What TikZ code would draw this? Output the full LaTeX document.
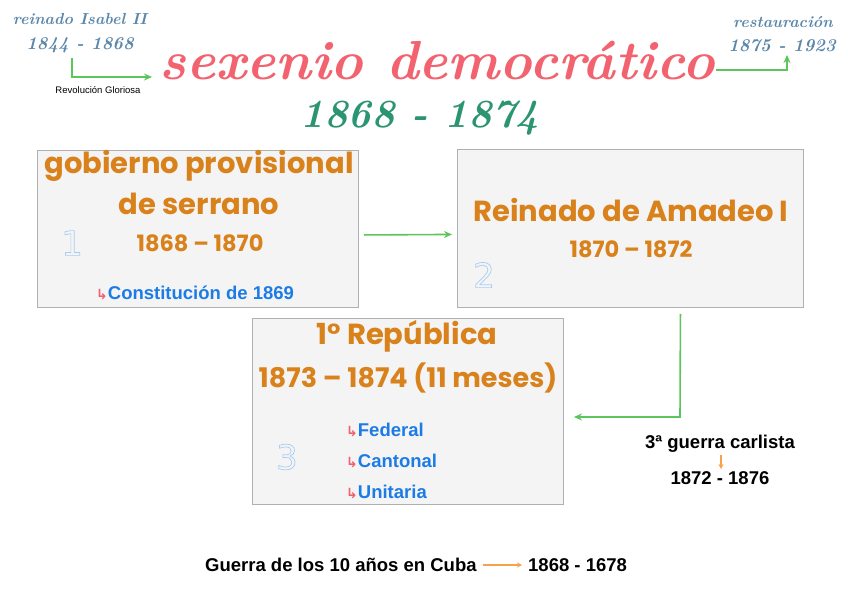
\documentclass[tikz,border=0pt]{standalone}
\usepackage{fontspec}
\setmainfont{Liberation Sans}
\newfontfamily\popp{Poppins}
\newfontfamily\dejavu{DejaVu Sans}
\newfontfamily\lmr{Latin Modern Roman}
\usetikzlibrary{arrows.meta,positioning}
\definecolor{orng}{HTML}{D9811A}
\definecolor{bluet}{HTML}{1C7BE6}
\definecolor{pinkarr}{HTML}{F0606E}
\definecolor{boxfill}{HTML}{F4F4F4}
\definecolor{boxline}{HTML}{B0B0B0}
\definecolor{garr}{HTML}{5CC65C}
\definecolor{titred}{HTML}{F2636F}
\definecolor{yrgreen}{HTML}{2B9473}
\definecolor{bgray}{HTML}{5B87AA}
\definecolor{numblue}{HTML}{A9CDF2}
\definecolor{oarr}{HTML}{F7A24A}
\newcommand{\outl}[1]{\special{pdf:code 1 Tr 0.7 w}#1\special{pdf:code 0 Tr}}
\tikzset{
  panel/.style={draw=boxline, fill=boxfill, line width=0.9pt, anchor=north west, inner sep=0pt},
  garrow/.style={draw=garr, line width=1.6pt, -{Stealth[length=8pt,width=7pt]}},
  oarrow/.style={draw=oarr, line width=1.1pt, -{Stealth[length=5pt,width=5pt]}},
  orhead/.style={text=orng, font=\popp\bfseries\fontsize{29}{32}\selectfont, inner sep=0pt},
  oryear/.style={text=orng, font=\popp\bfseries\fontsize{22.5}{25}\selectfont, inner sep=0pt},
  bluel/.style={text=bluet, font=\bfseries\fontsize{18.5}{20}\selectfont, inner sep=0pt, anchor=west},
  blk/.style={text=black, font=\bfseries\fontsize{18.5}{20}\selectfont, inner sep=0pt},
  scr/.style={text=bgray, font=\lmr\bfseries\itshape\fontsize{16}{18}\selectfont, inner sep=0pt},
  scry/.style={text=bgray, font=\lmr\bfseries\itshape\fontsize{18}{20}\selectfont, inner sep=0pt},
  numo/.style={text=numblue, font=\dejavu\fontsize{34}{36}\selectfont, inner sep=0pt}
}
\newcommand{\arr}{{\dejavu\color{pinkarr}\fontsize{14}{15}\selectfont ↳}}
\begin{document}
\begin{tikzpicture}[x=1pt,y=-1pt]
\useasboundingbox[fill=white] (0,0) rectangle (848,599);
% panels
\node[panel, minimum width=321pt, minimum height=157pt] (b1) at (37,150) {};
\node[panel, minimum width=346pt, minimum height=158pt] (b2) at (457,149) {};
\node[panel, minimum width=311pt, minimum height=186pt] (b3) at (252,318) {};
% title
\node[text=titred, font=\lmr\bfseries\itshape\fontsize{55}{58}\selectfont, inner sep=0pt] (title) at (437,60) {sexenio democrático};
\node[text=yrgreen, font=\lmr\bfseries\itshape\fontsize{40}{42}\selectfont, inner sep=0pt] (years) at (420,118) {1868 - 1874};
% top left
\node[scr] (isa) at (80,19) {reinado Isabel II};
\node[scry] (isay) at (80,45) {1844 - 1868};
\node[font=\fontsize{9.5}{11}\selectfont, inner sep=0pt] (rev) at (98,90) {Revolución Gloriosa};
\coordinate (l1) at (72,58);
\coordinate (l2) at (72,77);
\coordinate (l3) at (152,77);
\draw[garrow] (l1) -- (l2) -- (l3);
% top right
\node[scr] (res) at (783,22) {restauración};
\node[scry] (resy) at (782,46) {1875 - 1923};
\coordinate (r1) at (716,70);
\coordinate (r2) at (787,70);
\coordinate (r3) at (787,55);
\draw[garrow] (r1) -- (r2) -- (r3);
% box 1
\node[orhead] (g1) at (199,166) {gobierno provisional};
\node[orhead] (g2) at (199,204) {de serrano};
\node[oryear] (g3) at (200,243) {1868 – 1870};
\node[bluel] (g4) at (96,293) {\arr Constitución de 1869};
\node[numo] (n1) at (72,243) {\outl{1}};
% box 2
\node[orhead] (a1) at (631,210) {Reinado de Amadeo I};
\node[oryear] (a2) at (631,249) {1870 – 1872};
\node[numo] (n2) at (484,275) {\outl{2}};
% box 3
\node[orhead] (p1) at (407,336) {1° República};
\node[orhead, font=\popp\bfseries\fontsize{27}{30}\selectfont] (p2) at (408,378) {1873 – 1874 (11 meses)};
\node[bluel] (p3) at (346,430) {\arr Federal};
\node[bluel] (p4) at (346,461) {\arr Cantonal};
\node[bluel] (p5) at (346,492) {\arr Unitaria};
\node[numo] (n3) at (287,457) {\outl{3}};
% connectors
\draw[garrow] ([xshift=5pt,yshift=-6pt]b1.east) -- ([xshift=-5pt,yshift=-6pt]b2.west);
\coordinate (c1) at ([xshift=50pt,yshift=-6pt]b2.south);
\coordinate (c2) at (680,417);
\coordinate (c3) at ([xshift=10pt]b3.east |- c2);
\draw[garrow] (c1) -- (c2) -- (c3);
% carlista
\node[blk] (k1) at (720,444) {3ª guerra carlista};
\node[blk] (k2) at (720,478) {1872 - 1876};
\coordinate (k3) at (721,455);
\coordinate (k4) at (721,469);
\draw[oarrow] (k3) -- (k4);
% bottom
\node[blk, anchor=west] (cu) at (205,565) {Guerra de los 10 años en Cuba};
\node[blk, anchor=west] (cuy) at (528,565) {1868 - 1678};
\draw[oarrow] ([xshift=6pt]cu.east) -- ([xshift=-6pt]cuy.west);
\end{tikzpicture}
\end{document}
